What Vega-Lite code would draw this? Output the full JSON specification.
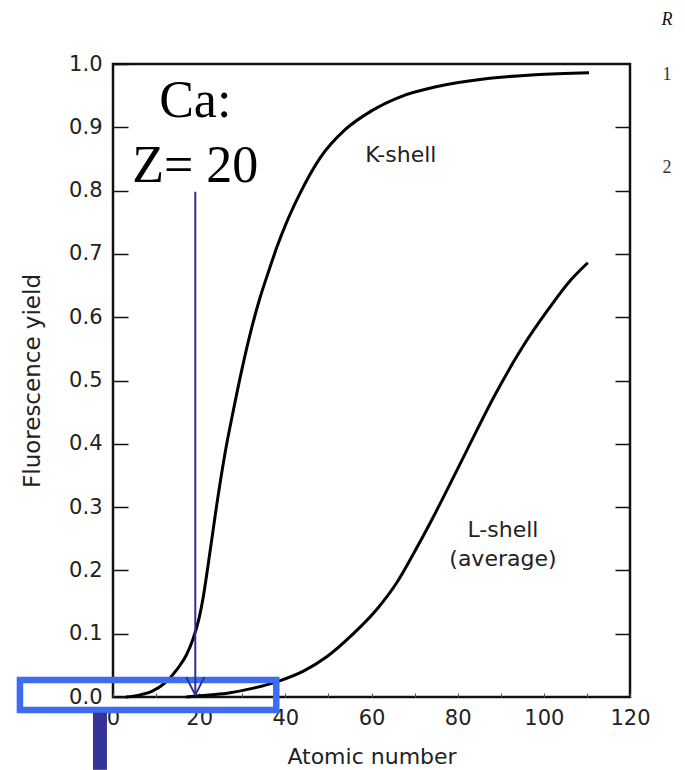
{
  "$schema": "https://vega.github.io/schema/vega-lite/v6.json",
  "width": 517,
  "height": 633,
  "autosize": "none",
  "padding": {"left": 113, "top": 64, "right": 55, "bottom": 73},
  "background": "white",
  "config": {
    "view": {"stroke": "#111", "strokeWidth": 2.5},
    "axis": {"grid": false, "domain": false, "labelOverlap": false}
  },
  "datasets": {
    "k": [
      {"Z": 3, "v": 0}, {"Z": 6, "v": 0.003}, {"Z": 9, "v": 0.009}, {"Z": 12, "v": 0.022},
      {"Z": 15, "v": 0.045}, {"Z": 17, "v": 0.066}, {"Z": 18.5, "v": 0.09}, {"Z": 20, "v": 0.125},
      {"Z": 21, "v": 0.16}, {"Z": 22, "v": 0.205}, {"Z": 24, "v": 0.3}, {"Z": 26, "v": 0.385},
      {"Z": 28, "v": 0.455}, {"Z": 30, "v": 0.52}, {"Z": 32, "v": 0.578}, {"Z": 34, "v": 0.628},
      {"Z": 36, "v": 0.67}, {"Z": 38, "v": 0.71}, {"Z": 40, "v": 0.745}, {"Z": 43, "v": 0.79},
      {"Z": 48, "v": 0.851}, {"Z": 54, "v": 0.897}, {"Z": 60, "v": 0.926}, {"Z": 67, "v": 0.949},
      {"Z": 75, "v": 0.964}, {"Z": 87, "v": 0.977}, {"Z": 98, "v": 0.983}, {"Z": 110.5, "v": 0.986}
    ],
    "l": [
      {"Z": 17, "v": 0}, {"Z": 20, "v": 0.002}, {"Z": 26.5, "v": 0.006}, {"Z": 32.6, "v": 0.014},
      {"Z": 38.8, "v": 0.026}, {"Z": 44.2, "v": 0.041}, {"Z": 49.7, "v": 0.064}, {"Z": 55.8, "v": 0.1},
      {"Z": 61.3, "v": 0.139}, {"Z": 66, "v": 0.182}, {"Z": 69.8, "v": 0.227}, {"Z": 73.7, "v": 0.276},
      {"Z": 77.6, "v": 0.328}, {"Z": 82.3, "v": 0.392}, {"Z": 88.4, "v": 0.474}, {"Z": 94.7, "v": 0.549},
      {"Z": 100.9, "v": 0.611}, {"Z": 106.3, "v": 0.659}, {"Z": 110.2, "v": 0.686}
    ],
    "sans": [
      {"t": "K-shell", "Z": 66.8, "v": 0.845},
      {"t": "L-shell", "Z": 90.5, "v": 0.253},
      {"t": "(average)", "Z": 90.5, "v": 0.207}
    ],
    "ca": [
      {"t": "Ca:", "Z": 19.1, "v": 0.916},
      {"t": "Z= 20", "Z": 19.1, "v": 0.814}
    ],
    "stray": [
      {"t": "1", "Z": 128.6, "v": 0.975},
      {"t": "2", "Z": 128.6, "v": 0.828}
    ],
    "strayR": [{"t": "R", "Z": 128.6, "v": 1.062}],
    "box": [{"Z": -21.6, "Z2": 37.9, "v": 0.027, "v2": -0.0205}],
    "bar": [{"Z": -4.65, "Z2": -1.4, "v": -0.025, "v2": -0.115}],
    "arrow": [{"Z": 19.1, "v": 0.798, "tip": 0.003}],
    "head": [{"Z": 19.1, "v": 0.003}]
  },
  "layer": [
    {
      "data": {"name": "k"},
      "mark": {"type": "line", "color": "#000", "strokeWidth": 3, "interpolate": "monotone"},
      "encoding": {
        "x": {
          "field": "Z", "type": "quantitative",
          "scale": {"domain": [0, 120], "nice": false, "zero": false},
          "axis": {
            "values": [0, 10, 20, 30, 40, 50, 60, 70, 80, 90, 100, 110, 120],
            "labelExpr": "datum.value % 20 === 0 ? datum.label : ''",
            "tickSize": -4, "tickColor": "#555", "tickWidth": 1,
            "labelPadding": 14, "labelFlush": false,
            "labelFont": "DejaVu Sans", "labelFontSize": 21, "labelColor": "#222",
            "title": "Atomic number", "titleFont": "DejaVu Sans", "titleFontSize": 22,
            "titleFontWeight": "normal", "titleColor": "#222",
            "titleX": 258.5, "titleY": 66, "titleBaseline": "alphabetic", "titleAlign": "center"
          }
        },
        "y": {
          "field": "v", "type": "quantitative",
          "scale": {"domain": [0, 1], "nice": false, "zero": false},
          "axis": {
            "values": [0, 0.1, 0.2, 0.3, 0.4, 0.5, 0.6, 0.7, 0.8, 0.9, 1.0],
            "format": ".1f",
            "tickSize": -15, "tickWidth": 1.5, "tickColor": "#111",
            "labelPadding": 26,
            "labelFont": "DejaVu Sans", "labelFontSize": 21, "labelColor": "#222",
            "title": "Fluorescence yield", "titleFont": "DejaVu Sans", "titleFontSize": 23,
            "titleFontWeight": "normal", "titleColor": "#222",
            "titleX": -81, "titleY": 316.5, "titleAngle": -90,
            "titleBaseline": "middle", "titleAlign": "center"
          }
        }
      }
    },
    {
      "data": {"name": "l"},
      "mark": {"type": "line", "color": "#000", "strokeWidth": 3, "interpolate": "monotone"},
      "encoding": {
        "x": {"field": "Z", "type": "quantitative", "scale": {"domain": [0, 120], "nice": false, "zero": false}},
        "y": {
          "field": "v", "type": "quantitative",
          "scale": {"domain": [0, 1], "nice": false, "zero": false},
          "axis": {
            "orient": "right",
            "values": [0.1, 0.2, 0.3, 0.4, 0.5, 0.6, 0.7, 0.8, 0.9],
            "labels": false, "tickSize": -15, "tickWidth": 1.5, "tickColor": "#111",
            "title": null
          }
        }
      }
    },
    {
      "data": {"name": "box"},
      "mark": {"type": "rect", "filled": false, "stroke": "#3d6cf0", "strokeWidth": 6.5},
      "encoding": {
        "x": {"field": "Z", "type": "quantitative", "scale": {"domain": [0, 120], "nice": false, "zero": false}},
        "x2": {"field": "Z2"},
        "y": {"field": "v", "type": "quantitative", "scale": {"domain": [0, 1], "nice": false, "zero": false}, "axis": null},
        "y2": {"field": "v2"}
      }
    },
    {
      "data": {"name": "bar"},
      "mark": {"type": "rect", "color": "#333399"},
      "encoding": {
        "x": {"field": "Z", "type": "quantitative", "scale": {"domain": [0, 120], "nice": false, "zero": false}},
        "x2": {"field": "Z2"},
        "y": {"field": "v", "type": "quantitative", "scale": {"domain": [0, 1], "nice": false, "zero": false}, "axis": null},
        "y2": {"field": "v2"}
      }
    },
    {
      "data": {"name": "arrow"},
      "mark": {"type": "rule", "color": "#2e3192", "strokeWidth": 2},
      "encoding": {
        "x": {"field": "Z", "type": "quantitative", "scale": {"domain": [0, 120], "nice": false, "zero": false}},
        "y": {"field": "v", "type": "quantitative", "scale": {"domain": [0, 1], "nice": false, "zero": false}, "axis": null},
        "y2": {"field": "tip"}
      }
    },
    {
      "data": {"name": "head"},
      "mark": {"type": "point", "shape": "M-1,-2L0,0L1,-2", "size": 324, "filled": false, "stroke": "#2e3192", "strokeWidth": 2, "opacity": 1},
      "encoding": {
        "x": {"field": "Z", "type": "quantitative", "scale": {"domain": [0, 120], "nice": false, "zero": false}},
        "y": {"field": "v", "type": "quantitative", "scale": {"domain": [0, 1], "nice": false, "zero": false}, "axis": null}
      }
    },
    {
      "data": {"name": "sans"},
      "mark": {"type": "text", "font": "DejaVu Sans", "fontSize": 22, "color": "#222", "align": "center", "baseline": "alphabetic"},
      "encoding": {
        "x": {"field": "Z", "type": "quantitative", "scale": {"domain": [0, 120], "nice": false, "zero": false}},
        "y": {"field": "v", "type": "quantitative", "scale": {"domain": [0, 1], "nice": false, "zero": false}, "axis": null},
        "text": {"field": "t"}
      }
    },
    {
      "data": {"name": "ca"},
      "mark": {"type": "text", "font": "Liberation Serif", "fontSize": 52, "color": "#000", "align": "center", "baseline": "alphabetic"},
      "encoding": {
        "x": {"field": "Z", "type": "quantitative", "scale": {"domain": [0, 120], "nice": false, "zero": false}},
        "y": {"field": "v", "type": "quantitative", "scale": {"domain": [0, 1], "nice": false, "zero": false}, "axis": null},
        "text": {"field": "t"}
      }
    },
    {
      "data": {"name": "stray"},
      "mark": {"type": "text", "font": "Liberation Serif", "fontSize": 18, "color": "#333", "align": "center", "baseline": "alphabetic"},
      "encoding": {
        "x": {"field": "Z", "type": "quantitative", "scale": {"domain": [0, 120], "nice": false, "zero": false}},
        "y": {"field": "v", "type": "quantitative", "scale": {"domain": [0, 1], "nice": false, "zero": false}, "axis": null},
        "text": {"field": "t"}
      }
    },
    {
      "data": {"name": "strayR"},
      "mark": {"type": "text", "font": "Liberation Serif", "fontSize": 18, "fontStyle": "italic", "color": "#111", "align": "center", "baseline": "alphabetic"},
      "encoding": {
        "x": {"field": "Z", "type": "quantitative", "scale": {"domain": [0, 120], "nice": false, "zero": false}},
        "y": {"field": "v", "type": "quantitative", "scale": {"domain": [0, 1], "nice": false, "zero": false}, "axis": null},
        "text": {"field": "t"}
      }
    }
  ],
  "resolve": {"axis": {"y": "independent"}}
}
